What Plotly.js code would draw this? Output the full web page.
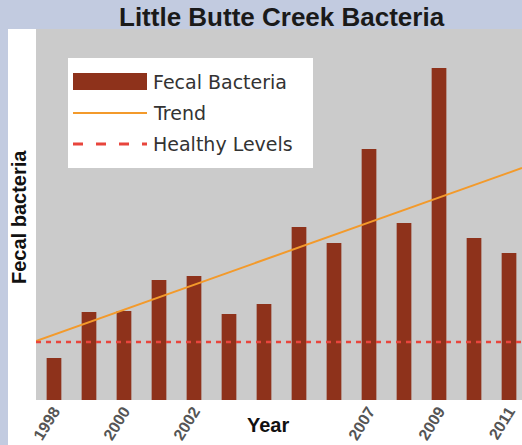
<!DOCTYPE html>
<html>
<head>
<meta charset="utf-8">
<script src="https://cdn.plot.ly/plotly-3.0.1.min.js"></script>
<style>html,body{margin:0;padding:0;background:#fff;}#chart{width:522px;height:445px;}</style>
</head>
<body>
<div id="chart"></div>
<script>
// ---- data ----
const years = [1998,1999,2000,2001,2002,2003,2004,2005,2006,2007,2008,2009,2010,2011];
const fecal = [42,88,89,120,124,86,96,173,157,251,177,332,162,147];
const tickYears = [1998,2000,2002,2007,2009,2011];
const tickLabels = ['1998','2000','2002','2007','2009','2011'];
const lineYears = [1997.486, 2011.371];
const trendValues = [59, 232];
const healthyValues = [58, 58];
const legendNames = ['Fecal Bacteria','Trend','Healthy Levels'];

// ---- layout helpers (pixel -> paper) ----
const W = 522, H = 445, L = 36, R = 0, T = 29, B = 45;
const pw = W - L - R, ph = H - T - B;
const px = x => (x - L) / pw;
const py = y => (H - B - y) / ph;

const barColor = '#8e321b', trendColor = '#f39a2b', healthyColor = '#e8453c';

const traces = [
  {type:'bar', x: years, y: fecal, width: 0.42, name: legendNames[0],
   marker:{color: barColor, line:{width:0}}, showlegend:false, hoverinfo:'x+y'},
  {type:'scatter', mode:'lines', x: lineYears, y: trendValues, name: legendNames[1],
   line:{color: trendColor, width:2}, showlegend:false},
  {type:'scatter', mode:'lines', x: lineYears, y: healthyValues, name: legendNames[2],
   line:{color: healthyColor, width:2.5, dash:'5px,5px'}, showlegend:false}
];

const lav = '#c2cbe0';
const shapes = [
  // lavender frame
  {type:'rect', xref:'paper', yref:'paper', x0:px(0), x1:px(W), y0:py(0), y1:py(T), fillcolor:lav, line:{width:0}, layer:'below'},
  {type:'rect', xref:'paper', yref:'paper', x0:px(0), x1:px(8), y0:py(0), y1:py(H), fillcolor:lav, line:{width:0}, layer:'below'},
  // legend box
  {type:'rect', xref:'paper', yref:'paper', x0:px(68), x1:px(313), y0:py(58), y1:py(168), fillcolor:'#ffffff', line:{width:0}},
  {type:'rect', xref:'paper', yref:'paper', x0:px(73), x1:px(147), y0:py(73), y1:py(90), fillcolor:barColor, line:{width:0}},
  {type:'line', xref:'paper', yref:'paper', x0:px(73), x1:px(147), y0:py(113), y1:py(113), line:{color:trendColor, width:2}},
  {type:'line', xref:'paper', yref:'paper', x0:px(73), x1:px(147), y0:py(144), y1:py(144), line:{color:healthyColor, width:3, dash:'10px,13px'}}
];

const legFont = {family:'DejaVu Sans', size:19, color:'#333333'};
const annotations = [
  {text:'Little Butte Creek Bacteria', xref:'paper', yref:'paper', x:px(282), y:py(17), xanchor:'center', yanchor:'middle', showarrow:false,
   font:{family:'Liberation Sans', size:26, color:'#1a1a1a', weight:700}},
  {text:'Year', xref:'paper', yref:'paper', x:px(268), y:py(425), xanchor:'center', yanchor:'middle', showarrow:false,
   font:{family:'Liberation Sans', size:20, color:'#111', weight:700}},
  {text:'Fecal bacteria', xref:'paper', yref:'paper', x:px(19), y:py(217), xanchor:'center', yanchor:'middle', showarrow:false, textangle:-90,
   font:{family:'Liberation Sans', size:20, color:'#111', weight:700}},
  {text:legendNames[0], xref:'paper', yref:'paper', x:px(151), y:py(82), xanchor:'left', yanchor:'middle', showarrow:false, font:legFont},
  {text:legendNames[1], xref:'paper', yref:'paper', x:px(151), y:py(113), xanchor:'left', yanchor:'middle', showarrow:false, font:legFont},
  {text:legendNames[2], xref:'paper', yref:'paper', x:px(151), y:py(144), xanchor:'left', yanchor:'middle', showarrow:false, font:legFont}
];

const layout = {
  width: W, height: H,
  margin:{l:L, r:R, t:T, b:B, pad:0},
  paper_bgcolor:'#ffffff', plot_bgcolor:'#cbcbcb',
  showlegend:false,
  xaxis:{range:[lineYears[0], lineYears[1]], tickmode:'array', tickvals: tickYears, ticktext: tickLabels,
         tickangle:-58, showgrid:false, zeroline:false, showline:false, ticks:'', ticklabelstandoff:-2,
         tickfont:{family:'Liberation Sans', size:16, color:'#555555', weight:700}},
  yaxis:{range:[0, ph], showgrid:false, zeroline:false, showline:false, showticklabels:false, ticks:''},
  shapes: shapes,
  annotations: annotations
};

Plotly.newPlot('chart', traces, layout, {staticPlot:true, displayModeBar:false});
</script>
</body>
</html>
